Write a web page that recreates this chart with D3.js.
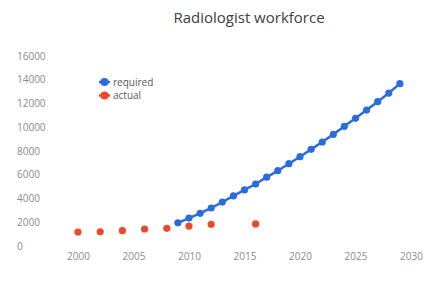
<!DOCTYPE html>
<html lang="en">
  <head>
    <meta charset="utf-8">
    <title>Radiologist workforce</title>
    <script src="https://d3js.org/d3.v7.min.js"></script>
    <style>
      body { margin: 0; background: #fff; }
      text { font-family: "Open Sans", "Liberation Sans", sans-serif; }
    </style>
  </head>
  <body>
    <svg width="445" height="285"></svg>
    <script type="text/javascript">
      // data
      var requiredYears = [2009, 2010, 2011, 2012, 2013, 2014, 2015, 2016, 2017, 2018, 2019,
                           2020, 2021, 2022, 2023, 2024, 2025, 2026, 2027, 2028, 2029];
      var requiredValues = [1950, 2350, 2750, 3200, 3700, 4220, 4720, 5220, 5800, 6340, 6930,
                            7520, 8140, 8760, 9400, 10080, 10750, 11450, 12150, 12880, 13670];
      var actualYears = [2000, 2002, 2004, 2006, 2008, 2010, 2012, 2016];
      var actualValues = [1180, 1200, 1290, 1430, 1490, 1680, 1830, 1860];
      var xTicks = [2000, 2005, 2010, 2015, 2020, 2025, 2030];
      var yTicks = [0, 2000, 4000, 6000, 8000, 10000, 12000, 14000, 16000];

      var blue = "#2b6cdc",
          red = "#f0482a";

      var svg = d3.select("svg");

      var x = d3.scaleLinear().domain([2000, 2030]).range([78, 411]);
      var y = d3.scaleLinear().domain([0, 16000]).range([246, 56]);

      // title
      svg.append("text")
          .attr("x", 249)
          .attr("y", 23)
          .attr("text-anchor", "middle")
          .attr("font-size", 15)
          .attr("fill", "#404040")
          .text("Radiologist workforce");

      // y axis labels (left aligned, no axis line)
      var yAxis = d3.axisLeft(y).tickValues(yTicks).tickSize(0).tickFormat(d3.format("d"));
      var gy = svg.append("g").attr("transform", "translate(17,0)").call(yAxis);
      gy.select(".domain").remove();
      gy.selectAll("text")
          .attr("x", 0)
          .attr("text-anchor", "start")
          .attr("font-size", 10)
          .attr("fill", "#8a8a8a");

      // x axis labels
      var xAxis = d3.axisBottom(x).tickValues(xTicks).tickSize(0).tickFormat(d3.format("d"));
      var gx = svg.append("g").attr("transform", "translate(0,250)").call(xAxis);
      gx.select(".domain").remove();
      gx.selectAll("text")
          .attr("font-size", 10)
          .attr("fill", "#8a8a8a");

      var required = requiredYears.map(function(d, i) { return {year: d, value: requiredValues[i]}; });
      var actual = actualYears.map(function(d, i) { return {year: d, value: actualValues[i]}; });

      var line = d3.line()
          .x(function(d) { return x(d.year); })
          .y(function(d) { return y(d.value); });

      svg.append("path")
          .datum(required)
          .attr("fill", "none")
          .attr("stroke", blue)
          .attr("stroke-width", 2.5)
          .attr("d", line);

      svg.append("g").selectAll("circle")
          .data(required)
          .enter().append("circle")
          .attr("cx", function(d) { return x(d.year); })
          .attr("cy", function(d) { return y(d.value); })
          .attr("r", 3.6)
          .attr("fill", blue);

      svg.append("g").selectAll("circle")
          .data(actual)
          .enter().append("circle")
          .attr("cx", function(d) { return x(d.year); })
          .attr("cy", function(d) { return y(d.value); })
          .attr("r", 3.6)
          .attr("fill", red);

      // legend
      var legend = svg.append("g");
      var items = [{name: "required", color: blue, y: 82}, {name: "actual", color: red, y: 95.5}];
      items.forEach(function(it) {
        legend.append("line")
            .attr("x1", 99).attr("x2", 110)
            .attr("y1", it.y).attr("y2", it.y)
            .attr("stroke", it.color)
            .attr("stroke-width", 2.5);
        legend.append("circle")
            .attr("cx", 104.5).attr("cy", it.y)
            .attr("r", 4)
            .attr("fill", it.color);
        legend.append("text")
            .attr("x", 113)
            .attr("y", it.y + 3.5)
            .attr("font-size", 10)
            .attr("fill", "#595959")
            .text(it.name);
      });
    </script>
  </body>
</html>
